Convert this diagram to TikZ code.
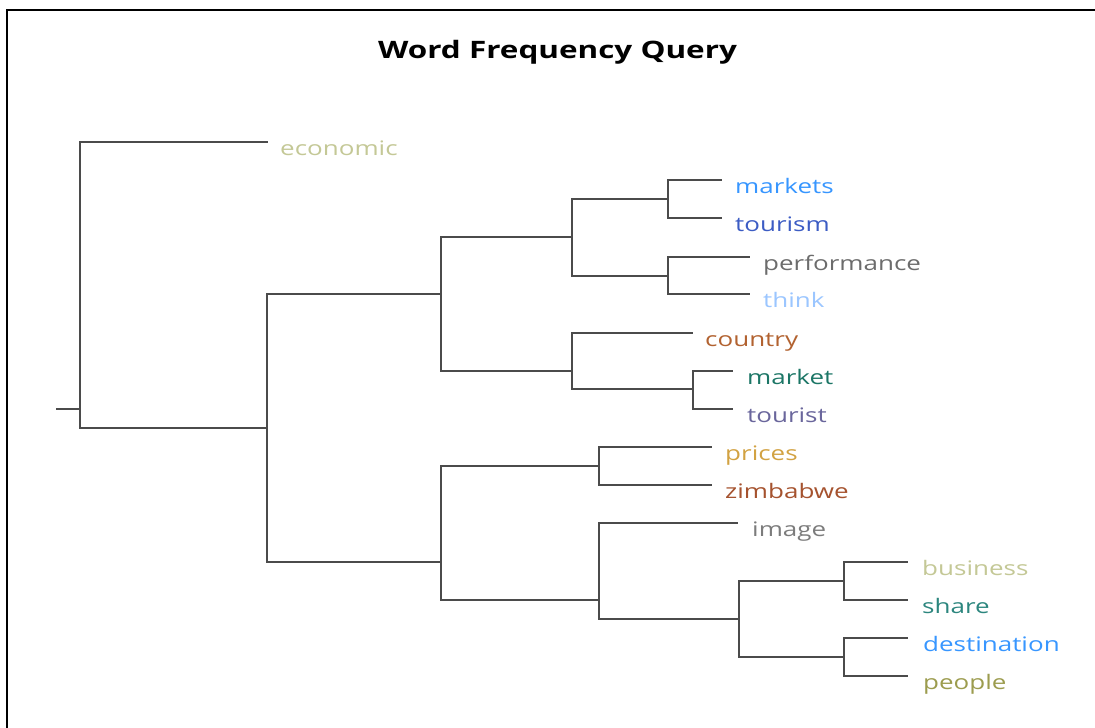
\documentclass[tikz,border=0pt]{standalone}
\usepackage{fontspec}
\setmainfont{Open Sans}
\usepackage{graphicx}
\definecolor{linegray}{RGB}{75,75,75}
\definecolor{cEcon}{RGB}{196,200,150}
\definecolor{cMarkets}{RGB}{55,150,255}
\definecolor{cTourism}{RGB}{60,92,196}
\definecolor{cPerf}{RGB}{108,108,108}
\definecolor{cThink}{RGB}{155,198,255}
\definecolor{cCountry}{RGB}{178,98,48}
\definecolor{cMarket}{RGB}{28,118,102}
\definecolor{cTourist}{RGB}{106,102,156}
\definecolor{cPrices}{RGB}{210,162,66}
\definecolor{cZim}{RGB}{165,82,46}
\definecolor{cImage}{RGB}{124,124,124}
\definecolor{cBusiness}{RGB}{196,200,150}
\definecolor{cShare}{RGB}{44,134,126}
\definecolor{cDest}{RGB}{55,150,255}
\definecolor{cPeople}{RGB}{156,156,78}
\newcommand{\stretchx}[1]{\scalebox{1.3}[1]{#1}}
\begin{document}
\begin{tikzpicture}[x=1pt,y=-1pt,
  link/.style={draw=linegray, line width=2.4pt},
  leaf/.style={anchor=base west, inner sep=0pt, font=\fontsize{20}{24}\selectfont},
  titlestyle/.style={anchor=base, inner sep=0pt, font=\fontsize{24}{28}\selectfont\bfseries}]
\useasboundingbox (0,0) rectangle (1095,728);
\fill[white] (0,0) rectangle (1095,728);
\draw[line width=2.2pt, black, line join=miter] (7,728) -- (7,10) -- (1095,10);

\node[titlestyle] (title) at (557.5,58) {\scalebox{1.31}[1]{Word Frequency Query}};

% junctions
\coordinate (stub) at (56,409);
\coordinate (R) at (80,409);
\coordinate (N1) at (267,428);
\coordinate (N2) at (441,294);
\coordinate (N3) at (441,562);
\coordinate (N4) at (572,237);
\coordinate (N5) at (572,371);
\coordinate (N6) at (668,199);
\coordinate (N7) at (668,276);
\coordinate (N8) at (693,389);
\coordinate (N9) at (599,466);
\coordinate (N10) at (599,600);
\coordinate (N11) at (739,619);
\coordinate (N12) at (844,581);
\coordinate (N13) at (844,657);

% leaf line ends
\coordinate (economic-e) at (268,142);
\coordinate (markets-e) at (722,180);
\coordinate (tourism-e) at (722,218);
\coordinate (performance-e) at (750,257);
\coordinate (think-e) at (750,294);
\coordinate (country-e) at (693,333);
\coordinate (market-e) at (733,371);
\coordinate (tourist-e) at (733,409);
\coordinate (prices-e) at (712,447);
\coordinate (zimbabwe-e) at (712,485);
\coordinate (image-e) at (738,523);
\coordinate (business-e) at (908,562);
\coordinate (share-e) at (908,600);
\coordinate (destination-e) at (908,638);
\coordinate (people-e) at (908,676);

% leaf labels
\node[leaf, text=cEcon] (economic) at (280,155) {\stretchx{economic}};
\node[leaf, text=cMarkets] (markets) at (735,193) {\stretchx{markets}};
\node[leaf, text=cTourism] (tourism) at (735,231) {\stretchx{tourism}};
\node[leaf, text=cPerf] (performance) at (763,270) {\stretchx{performance}};
\node[leaf, text=cThink] (think) at (763,307) {\stretchx{think}};
\node[leaf, text=cCountry] (country) at (705,346) {\stretchx{country}};
\node[leaf, text=cMarket] (market) at (747,384) {\stretchx{market}};
\node[leaf, text=cTourist] (tourist) at (747,422) {\stretchx{tourist}};
\node[leaf, text=cPrices] (prices) at (725,460) {\stretchx{prices}};
\node[leaf, text=cZim] (zimbabwe) at (725,498) {\stretchx{zimbabwe}};
\node[leaf, text=cImage] (image) at (752,536) {\stretchx{image}};
\node[leaf, text=cBusiness] (business) at (922,575) {\stretchx{business}};
\node[leaf, text=cShare] (share) at (922,613) {\stretchx{share}};
\node[leaf, text=cDest] (destination) at (923,651) {\stretchx{destination}};
\node[leaf, text=cPeople] (people) at (923,689) {\stretchx{people}};

% connectors
\draw[link] (stub) -- (R);
\draw[link] (R) |- (economic-e);
\draw[link] (R) |- (N1);
\draw[link] (N1) |- (N2);
\draw[link] (N1) |- (N3);
\draw[link] (N2) |- (N4);
\draw[link] (N2) |- (N5);
\draw[link] (N4) |- (N6);
\draw[link] (N4) |- (N7);
\draw[link] (N6) |- (markets-e);
\draw[link] (N6) |- (tourism-e);
\draw[link] (N7) |- (performance-e);
\draw[link] (N7) |- (think-e);
\draw[link] (N5) |- (country-e);
\draw[link] (N5) |- (N8);
\draw[link] (N8) |- (market-e);
\draw[link] (N8) |- (tourist-e);
\draw[link] (N3) |- (N9);
\draw[link] (N3) |- (N10);
\draw[link] (N9) |- (prices-e);
\draw[link] (N9) |- (zimbabwe-e);
\draw[link] (N10) |- (image-e);
\draw[link] (N10) |- (N11);
\draw[link] (N11) |- (N12);
\draw[link] (N11) |- (N13);
\draw[link] (N12) |- (business-e);
\draw[link] (N12) |- (share-e);
\draw[link] (N13) |- (destination-e);
\draw[link] (N13) |- (people-e);
\end{tikzpicture}
\end{document}
